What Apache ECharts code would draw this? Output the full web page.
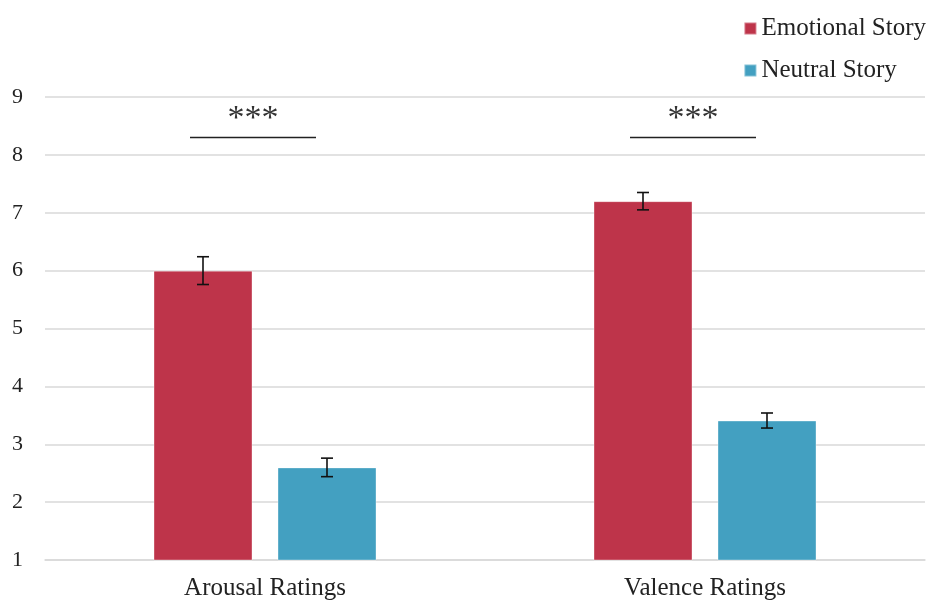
<!DOCTYPE html>
<html>
<head>
<meta charset="utf-8">
<script src="https://cdn.jsdelivr.net/npm/echarts@6/dist/echarts.min.js"></script>
<style>
html,body{margin:0;padding:0;background:#fff;}
#main{width:933px;height:601px;}
</style>
</head>
<body>
<div id="main"></div>
<script>
var categories = ['Arousal Ratings', 'Valence Ratings'];
var emotionalMeans = [6.0, 7.2];
var emotionalErr = [0.24, 0.15];
var neutralMeans = [2.6, 3.41];
var neutralErr = [0.16, 0.13];
var sigLabels = ['***', '***'];
var sigLineValue = [8.3, 8.3];
var sigTextValue = [8.62, 8.62];

var red = '#BE344A', blue = '#43A0C1';
var barW = 99, gapPx = 25;

// error bars: item = [catIndex, mean, err], offset = -1 (left bar) or +1 (right bar)
function errRender(offsetSign){
    return function(params, api){
        var ci = api.value(0), m = api.value(1), e = api.value(2);
        var c = api.coord([ci, m]);
        var x = c[0] + offsetSign * (barW + gapPx) / 2;
        var top = api.coord([ci, m + e])[1];
        var bot = api.coord([ci, m - e])[1];
        var st = {stroke: '#111', lineWidth: 1.6};
        return {
            type: 'group',
            children: [
                {type: 'line', shape: {x1: x, y1: top, x2: x, y2: bot}, style: st},
                {type: 'line', shape: {x1: x - 6, y1: top, x2: x + 6, y2: top}, style: st},
                {type: 'line', shape: {x1: x - 6, y1: bot, x2: x + 6, y2: bot}, style: st}
            ]
        };
    };
}

function makeErrData(means, errs){
    var d = [];
    for (var i = 0; i < means.length; i++) d.push([i, means[i], errs[i]]);
    return d;
}

var sigData = [];
for (var i = 0; i < categories.length; i++) sigData.push([i, sigLineValue[i], sigTextValue[i]]);

var chart = echarts.init(document.getElementById('main'));
var option = {
    animation: false,
    legend: {
        orient: 'vertical',
        right: 2,
        top: 11,
        itemWidth: 12,
        itemHeight: 12,
        itemGap: 17,
        icon: 'rect',
        textStyle: {fontFamily: 'Liberation Serif', fontSize: 25, color: '#222'},
        data: ['Emotional Story', 'Neutral Story']
    },
    grid: {left: 45, right: 8, top: 97, bottom: 41},
    xAxis: {
        type: 'category',
        data: categories,
        axisTick: {show: false},
        axisLine: {lineStyle: {color: '#d9d9d9', width: 1.5}},
        axisLabel: {fontFamily: 'Liberation Serif', fontSize: 25, color: '#222', margin: 16}
    },
    yAxis: {
        type: 'value',
        min: 1,
        max: 9,
        interval: 1,
        axisLine: {show: false},
        axisTick: {show: false},
        splitLine: {lineStyle: {color: '#d9d9d9', width: 1.5}},
        axisLabel: {fontFamily: 'Liberation Serif', fontSize: 22, color: '#222', margin: 22}
    },
    series: [
        {
            name: 'Emotional Story',
            type: 'bar',
            data: emotionalMeans,
            barWidth: barW,
            barGap: (gapPx / barW * 100) + '%',
            itemStyle: {color: red, borderColor: 'rgba(255,255,255,0.35)', borderWidth: 1}
        },
        {
            name: 'Neutral Story',
            type: 'bar',
            data: neutralMeans,
            barWidth: barW,
            itemStyle: {color: blue, borderColor: 'rgba(255,255,255,0.35)', borderWidth: 1}
        },
        {
            type: 'custom',
            renderItem: errRender(-1),
            data: makeErrData(emotionalMeans, emotionalErr),
            z: 10, silent: true
        },
        {
            type: 'custom',
            renderItem: errRender(1),
            data: makeErrData(neutralMeans, neutralErr),
            z: 10, silent: true
        },
        {
            type: 'custom',
            silent: true,
            z: 10,
            renderItem: function(params, api){
                var ci = api.value(0);
                var cl = api.coord([ci, api.value(1)]);
                var ct = api.coord([ci, api.value(2)]);
                var cx = cl[0] - 12;
                return {
                    type: 'group',
                    children: [
                        {type: 'line', shape: {x1: cx - 63, y1: cl[1], x2: cx + 63, y2: cl[1]},
                         style: {stroke: '#222', lineWidth: 1.5}},
                        {type: 'text', x: cx, y: ct[1],
                         style: {text: sigLabels[ci], textAlign: 'center', textVerticalAlign: 'middle',
                                 font: '34px "Liberation Serif"', fill: '#333'}}
                    ]
                };
            },
            data: sigData
        }
    ]
};
chart.setOption(option);
</script>
</body>
</html>
